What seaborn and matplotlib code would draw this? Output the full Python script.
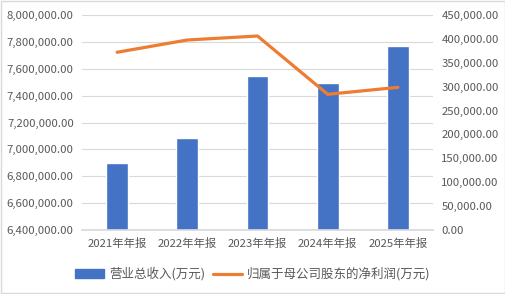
import matplotlib
matplotlib.use("Agg")
import matplotlib.pyplot as plt
import matplotlib.ticker as mticker
from matplotlib.patches import Rectangle, Patch
from matplotlib.lines import Line2D
import seaborn as sns

categories = ["2021年年报", "2022年年报", "2023年年报", "2024年年报", "2025年年报"]
revenue = [6902000, 7081000, 7549000, 7497000, 7766000]
net_profit = [372000, 397700, 406000, 284000, 298600]
revenue_label = "营业总收入(万元)"
profit_label = "归属于母公司股东的净利润(万元)"

sns.set_theme(style="white")
plt.rcParams['font.family'] = ['Noto Sans CJK SC', 'DejaVu Sans']

bar_color = "#4472C4"
line_color = "#ED7D31"
text_color = "#595959"
grid_color = "#D9D9D9"

fig = plt.figure(figsize=(5.06, 2.94), dpi=100)
ax = fig.add_axes([82/506, (294-230)/294, (433-82)/506, (230-15)/294])

sns.barplot(x=categories, y=revenue, ax=ax, color=bar_color, width=0.31, saturation=1)
ax.set_ylim(6400000, 8000000)
ax.yaxis.set_major_locator(mticker.MultipleLocator(200000))
ax.yaxis.set_major_formatter(mticker.FuncFormatter(lambda v, p: f"{v:,.2f}"))
ax.grid(axis="y", color=grid_color, linewidth=0.8)
ax.set_axisbelow(True)

ax2 = ax.twinx()
sns.lineplot(x=categories, y=net_profit, ax=ax2, color=line_color, linewidth=2.3, sort=False)
ax2.set_ylim(0, 450000)
ax2.yaxis.set_major_locator(mticker.MultipleLocator(50000))
ax2.yaxis.set_major_formatter(mticker.FuncFormatter(lambda v, p: f"{v:,.2f}"))

for a in (ax, ax2):
    for s in a.spines.values():
        s.set_visible(False)
    a.set_xlabel("")
    a.set_ylabel("")
    a.tick_params(axis="both", length=0, labelsize=8.2, colors=text_color)
ax.spines["bottom"].set_visible(True)
ax.spines["bottom"].set_color(grid_color)
ax.tick_params(axis="y", pad=6)
ax2.tick_params(axis="y", pad=6)
ax.tick_params(axis="x", pad=6)
ax.set_xlim(-0.5, len(categories) - 0.5)

handles = [Patch(facecolor=bar_color, edgecolor=bar_color),
           Line2D([0], [0], color=line_color, linewidth=2.3)]
leg = fig.legend(handles, [revenue_label, profit_label], loc="center",
                 bbox_to_anchor=(0.5, 1 - 274/294), ncol=2, frameon=False,
                 fontsize=9, handlelength=2.3, handleheight=0.65, columnspacing=0.6,
                 handletextpad=0.45)
for t in leg.get_texts():
    t.set_color(text_color)

fig.patches.append(Rectangle((0.002, 0.003), 0.996, 0.994, transform=fig.transFigure,
                             fill=False, edgecolor="#D9D9D9", linewidth=1))

fig.savefig("out.png", dpi=100, facecolor="white")
